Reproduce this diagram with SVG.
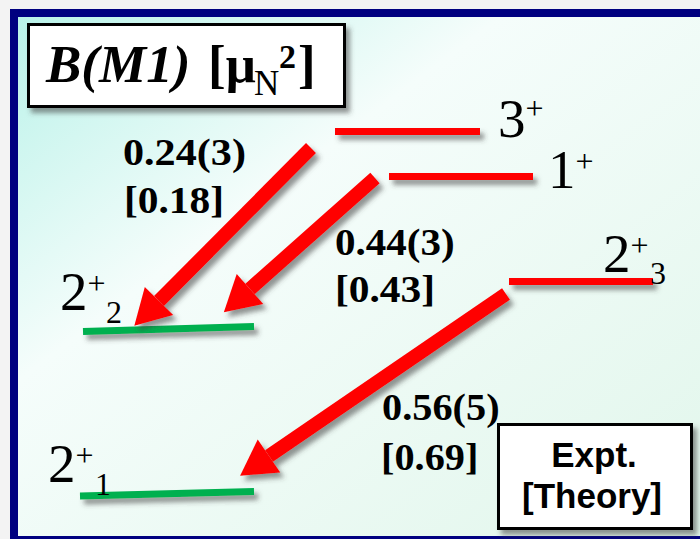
<svg xmlns="http://www.w3.org/2000/svg" width="700" height="539" viewBox="0 0 700 539">
<defs>
<linearGradient id="bg" x1="0" y1="0" x2="1" y2="1">
<stop offset="0" stop-color="#b9f2e9"/>
<stop offset="0.35" stop-color="#f5fdfb"/>
<stop offset="1" stop-color="#e1f6eb"/>
</linearGradient>
<filter id="sh" filterUnits="userSpaceOnUse" x="0" y="0" width="700" height="539">
<feDropShadow dx="4" dy="5" stdDeviation="2.5" flood-color="#404040" flood-opacity="0.55"/>
</filter>
<marker id="head" markerUnits="userSpaceOnUse" markerWidth="40" markerHeight="44" refX="0" refY="20" orient="auto" overflow="visible">
<path d="M0,0 L35,20 L0,40 Z" fill="#ff0000"/>
</marker>
</defs>
<style>
.lvl{stroke-width:7;fill:none}
.red{stroke:#ff0000}
.grn{stroke:#00b050}
.spin{font-family:"Liberation Serif","Times New Roman",serif;font-size:55px;fill:#000}
.sm{font-size:32px}
.val{font-family:"Liberation Serif","Times New Roman",serif;font-size:37px;font-weight:bold;fill:#000}
.arr{stroke:#ff0000;stroke-width:14;fill:none;marker-end:url(#head)}
.box{fill:#fff;stroke:#000;stroke-width:3}
</style>
<rect x="0" y="0" width="700" height="539" fill="#f3f3f3"/>
<rect x="10" y="9" width="700" height="540" fill="#000080"/>
<rect x="18" y="17" width="690" height="519" fill="url(#bg)"/>

<g id="title">
<rect class="box" x="28.5" y="24.5" width="316" height="82" filter="url(#sh)"/>
<text font-family="'Liberation Serif','Times New Roman',serif" font-weight="bold" font-size="53" fill="#000"><tspan x="46" y="82" font-style="italic">B(M1)</tspan><tspan x="208" y="82">[μ</tspan><tspan x="254" y="95" font-size="35" font-weight="normal">N</tspan><tspan x="279" y="68" font-size="34">2</tspan><tspan x="298" y="82">]</tspan></text>
</g>

<g id="level-3plus">
<line class="lvl red" x1="335" y1="131.5" x2="480" y2="131.5" filter="url(#sh)"/>
<text class="spin" x="498" y="137">3<tspan class="sm" dy="-18">+</tspan></text>
</g>
<g id="level-1plus">
<line class="lvl red" x1="389" y1="176.5" x2="533" y2="176.5" filter="url(#sh)"/>
<text class="spin" x="548" y="188">1<tspan class="sm" dy="-16">+</tspan></text>
</g>
<g id="level-2plus3">
<line class="lvl red" x1="509" y1="281.5" x2="653" y2="281.5" filter="url(#sh)"/>
<text class="spin" x="603" y="272">2<tspan class="sm" dy="-16">+</tspan><tspan class="sm" x="650" y="284">3</tspan></text>
</g>
<g id="level-2plus2">
<line class="lvl grn" x1="83" y1="331.5" x2="254" y2="326.5" filter="url(#sh)"/>
<text class="spin" x="60" y="310">2<tspan class="sm" dy="-16">+</tspan><tspan class="sm" x="106" y="323">2</tspan></text>
</g>
<g id="level-2plus1">
<line class="lvl grn" x1="80" y1="496" x2="254" y2="491.5" filter="url(#sh)"/>
<text class="spin" x="48" y="482">2<tspan class="sm" dy="-16">+</tspan><tspan class="sm" x="95" y="495">1</tspan></text>
</g>

<g id="connectors" filter="url(#sh)">
<line class="arr" x1="311" y1="148" x2="159" y2="301"/>
<line class="arr" x1="375" y1="178" x2="250" y2="289"/>
<line class="arr" x1="506" y1="294" x2="269" y2="456"/>
</g>

<g id="transition-labels">
<text class="val" transform="translate(123,165) scale(1.14,1)">0.24(3)</text>
<text class="val" transform="translate(124,213) scale(1.12,1)">[0.18]</text>
<text class="val" transform="translate(335,255) scale(1.11,1)">0.44(3)</text>
<text class="val" transform="translate(335,302) scale(1.12,1)">[0.43]</text>
<text class="val" transform="translate(382,420) scale(1.09,1)">0.56(5)</text>
<text class="val" transform="translate(381,470) scale(1.09,1)">[0.69]</text>
</g>

<g id="legend">
<rect class="box" x="498.5" y="424.5" width="193" height="104" filter="url(#sh)"/>
<text x="594" y="467" text-anchor="middle" font-family="'Liberation Sans',Arial,sans-serif" font-weight="bold" font-size="35" fill="#000">Expt.</text>
<text x="592" y="508" text-anchor="middle" font-family="'Liberation Sans',Arial,sans-serif" font-weight="bold" font-size="35" fill="#000">[Theory]</text>
</g>
</svg>
